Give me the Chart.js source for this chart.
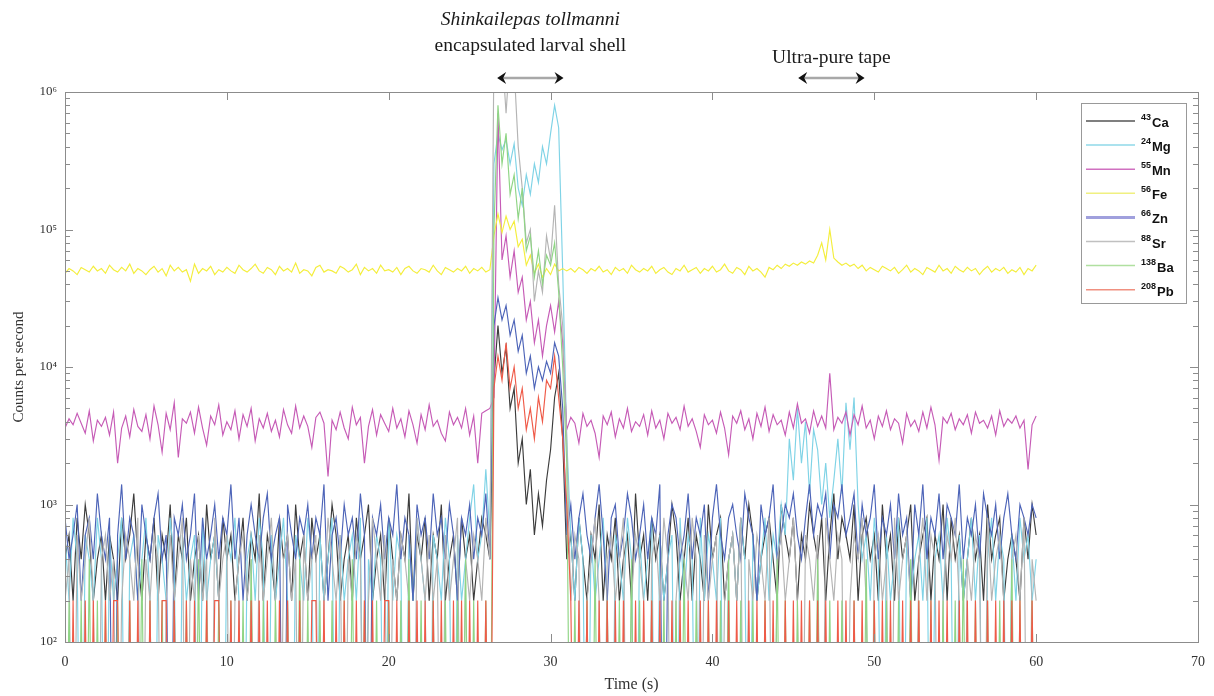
<!DOCTYPE html>
<html><head><meta charset="utf-8">
<script src="https://cdn.jsdelivr.net/npm/chart.js@4.4.1/dist/chart.umd.min.js"></script>
<style>html,body{margin:0;padding:0;background:#fff}#wrap{width:1214px;height:696px;position:relative}</style>
</head><body><div id="wrap"><canvas id="c" width="1214" height="696"></canvas></div>
<script>
// ---------------- DATA ----------------
const sampleStep = 0.25; // seconds between samples, first sample at 0 s
const masses   = ['43','24','55','56','66','88','138','208'];
const elements = ['Ca','Mg','Mn','Fe','Zn','Sr','Ba','Pb'];
const xTicks = [0,10,20,30,40,50,60,70];
const yDecades = [100,1000,10000,100000,1000000];
const yDecadeLabels = ['10²','10³','10⁴','10⁵','10⁶'];
const annotations = [
  {lines:['Shinkailepas tollmanni','encapsulated larval shell'], italic:[true,false], from:26.7, to:30.8},
  {lines:['Ultra-pure tape'], italic:[false], from:45.3, to:49.4}
];

// samples 0..105 = background, 106..123 = shell (26.5-30.75 s), 124..240 = background
// a count of 0 cannot sit on a log axis: it is drawn below the axis floor (clipped)
const ca = [
400,600,200,800,400,1000,600,200,400,600,
200,600,400,200,800,400,600,1200,400,200,
600,400,800,200,600,400,1000,200,600,400,
800,200,400,600,200,1000,400,600,200,800,
400,600,200,400,800,200,600,400,1200,200,
600,400,200,800,400,600,200,1000,400,600,
200,800,400,600,200,400,1000,600,200,400,
600,200,800,400,600,1000,200,400,600,200,
800,400,200,600,400,1200,200,600,400,800,
200,600,400,1000,200,400,600,200,800,400,
600,200,400,800,600,400,
8000,20000,9000,14000,5000,7000,2000,3000,1000,1800,600,1200,700,1500,2500,6000,9000,3000,
400,600,200,800,400,200,600,400,1000,200,
600,400,800,200,400,600,200,1200,400,600,
200,800,400,600,200,400,1000,600,200,400,
800,200,600,400,200,1000,400,600,800,200,
400,600,200,800,400,1000,600,200,400,600,
800,400,200,1000,600,400,800,200,600,400,
1000,600,400,800,200,600,1200,400,800,600,
400,1000,200,600,800,400,600,200,1000,400,
600,200,800,400,600,1000,200,400,600,800,
200,600,400,1000,200,800,400,600,200,400,
800,400,600,200,1000,400,600,800,200,400,
600,400,200,800,400,1000,600];

const mg = [
600,200,800,400,0,600,400,200,800,400,
0,600,200,400,800,0,400,600,200,400,
800,200,0,600,400,200,800,400,0,600,
200,400,600,0,800,200,400,600,200,0,
600,400,800,200,0,400,600,200,800,400,
0,600,200,400,800,200,0,600,400,200,
800,400,0,600,200,400,800,0,600,200,
400,600,200,800,0,400,200,600,400,0,
800,200,600,400,0,600,200,800,400,200,
0,600,400,200,800,400,0,600,200,400,
800,1400,400,600,1800,600,
300000,500000,380000,450000,300000,420000,200000,150000,250000,180000,300000,220000,400000,300000,500000,800000,550000,50000,
3000,600,200,800,400,0,600,200,400,800,
200,0,600,400,200,800,400,0,600,200,
400,800,0,600,200,400,600,0,800,200,
600,400,0,800,200,600,400,200,800,0,
400,600,200,800,400,0,600,200,400,800,
200,600,400,1000,600,3000,1500,5000,2000,4000,
1200,3500,2500,1000,2000,800,1500,3000,1200,5500,
2500,6000,1000,400,600,200,800,400,0,600,
200,400,800,0,600,200,400,600,200,800,
0,400,600,200,800,400,0,600,200,400,
800,200,600,0,400,800,200,600,400,0,
600,200,800,400,600,200,400];

const mn = [
3600,4200,3800,4600,3900,3300,4800,2900,4100,3700,
4300,3200,4700,2000,3600,4400,3100,4900,3700,3400,
4500,3000,5200,3800,2400,4600,3500,5500,2200,4200,
3900,4700,3300,5100,3600,2700,4400,3800,5300,3200,
4000,3500,4800,3000,4500,3700,5000,2900,4200,3600,
4600,3400,4100,3100,4900,3800,3300,5200,3600,4400,
3700,2600,4300,4700,3900,1600,4100,3500,4700,3600,
3000,5100,3800,4300,2000,3700,4900,3200,4500,3900,
3400,5000,3600,4200,3100,4800,3800,2800,4500,3500,
5300,3700,4100,3300,2900,4700,3800,4300,3600,5000,
3200,4400,2000,4600,4800,5000,
6000,700000,60000,90000,45000,70000,35000,45000,22000,30000,15000,22000,12000,20000,28000,18000,30000,15000,
3500,4300,3900,2800,4600,3700,4100,3300,2200,4400,
3800,4700,3100,4200,3600,5000,3400,4000,3700,4500,
3200,4800,3600,4100,3000,4600,3900,4300,3500,5200,
3700,4200,3400,2600,4500,3800,4100,3300,4700,3600,
2300,4400,3900,4800,3500,4200,3000,4600,3700,5100,
3400,4500,3800,4100,3200,4700,3600,5400,3900,4200,
3300,4800,3700,4400,3600,9000,3500,4300,3900,4700,
3200,4500,3800,5200,3600,4100,3000,4400,3700,4800,
3500,4200,3900,2800,4600,3700,4100,3400,4700,3600,
5100,3800,2100,4300,3900,4600,3500,4200,3800,4500,
3300,4700,3900,4100,3600,4400,3200,4800,3700,4200,
3900,4400,3600,4100,1800,3800,4400];

const fe = [
48000,52000,50000,47000,53000,51000,49000,54000,50000,52000,
48000,55000,51000,49000,53000,50000,56000,48000,52000,50000,
47000,51000,54000,49000,52000,46000,55000,50000,53000,49000,
51000,42000,56000,48000,52000,50000,54000,47000,51000,49000,
53000,50000,48000,55000,51000,49000,52000,56000,50000,48000,
53000,51000,47000,54000,50000,52000,49000,57000,48000,51000,
50000,46000,53000,55000,49000,51000,50000,48000,54000,52000,
49000,51000,56000,47000,53000,50000,52000,48000,55000,50000,
51000,49000,53000,47000,52000,54000,50000,48000,52000,51000,
49000,55000,50000,47000,53000,51000,49000,52000,50000,54000,
48000,52000,50000,53000,49000,51000,
90000,130000,95000,125000,100000,115000,75000,85000,55000,65000,48000,56000,45000,52000,47000,56000,50000,52000,
50000,52000,49000,53000,51000,48000,52000,50000,54000,49000,
51000,47000,53000,50000,52000,48000,55000,51000,49000,52000,
50000,54000,48000,51000,53000,49000,47000,52000,50000,55000,
49000,51000,53000,48000,52000,50000,54000,49000,51000,56000,
50000,48000,53000,51000,47000,54000,50000,52000,49000,45000,
53000,51000,55000,52000,56000,54000,57000,55000,58000,56000,
59000,57000,65000,80000,60000,100000,62000,58000,55000,57000,
54000,56000,52000,55000,50000,53000,51000,49000,54000,52000,
50000,53000,48000,51000,55000,49000,52000,50000,47000,53000,
51000,49000,55000,50000,52000,48000,54000,51000,49000,53000,
50000,52000,47000,51000,54000,49000,52000,50000,53000,48000,
51000,49000,53000,47000,52000,50000,55000];

const zn = [
800,400,600,1000,200,600,800,400,1200,600,
400,800,0,600,1400,400,800,600,200,1000,
600,400,800,1200,400,600,0,800,600,1000,
400,600,1200,200,800,400,600,1000,400,800,
600,1400,400,800,200,600,1000,600,400,800,
1200,400,600,800,0,1000,600,400,800,600,
1000,400,800,600,1400,200,600,800,400,1000,
600,800,400,1200,600,0,800,600,1000,400,
800,600,1400,400,800,600,200,1000,600,800,
400,1200,600,800,400,1000,600,200,800,600,
1000,400,800,600,1200,400,
20000,32000,22000,28000,17000,22000,13000,17000,9000,12000,7000,10000,8000,11000,9000,15000,12000,5000,
600,1000,400,800,1200,600,400,800,1400,600,
200,800,1000,400,600,1200,800,400,600,1000,
400,800,600,1400,0,600,1000,800,400,600,
1200,400,800,600,1000,200,800,1400,600,400,
800,1000,600,400,1200,800,600,200,1000,600,
800,1400,400,600,1000,800,1200,600,400,800,
1400,600,1000,800,1200,400,1000,800,1400,600,
800,1200,400,1000,600,800,1400,400,800,600,
1000,400,1200,600,800,200,1000,600,1400,400,
800,600,1200,400,1000,800,600,1400,400,800,
600,1000,400,1200,800,600,1000,400,800,1200,
600,400,1000,800,600,1000,800];

const sr = [
200,400,0,600,200,400,800,200,0,400,
600,200,400,0,200,600,400,200,800,0,
400,200,600,400,0,200,600,200,400,800,
0,400,200,600,200,400,0,800,200,400,
600,0,200,400,600,200,400,0,600,200,
400,800,200,0,400,600,200,400,0,600,
200,400,600,0,200,800,400,200,600,0,
400,200,600,400,0,200,800,400,200,600,
0,400,200,600,400,200,0,800,400,200,
600,200,400,0,600,200,400,800,0,400,
200,600,400,200,800,400,
2000000,1000000,2000000,700000,2000000,1500000,400000,200000,80000,100000,30000,50000,35000,90000,60000,150000,40000,20000,
3000,200,600,400,0,200,400,800,200,0,
400,600,200,400,800,0,200,600,400,200,
0,400,600,200,800,400,0,200,600,400,
200,800,400,0,600,200,400,600,0,200,
400,600,200,800,0,400,200,600,400,200,
800,0,400,600,200,400,800,200,0,600,
400,200,600,0,800,400,200,600,400,0,
200,600,400,800,200,0,400,600,200,400,
0,800,200,400,600,200,0,400,800,200,
600,400,0,200,600,400,800,200,0,400,
200,600,400,0,800,200,400,600,200,0,
400,600,200,800,0,400,200];

const ba = [
0,200,0,0,200,0,400,0,200,0,
200,0,0,200,0,0,200,0,0,400,
0,200,0,0,200,0,0,200,0,0,
200,0,0,400,0,200,0,0,200,0,
0,200,0,0,200,0,400,0,0,200,
0,0,200,0,0,200,0,0,400,0,
200,0,0,200,0,0,200,0,0,200,
0,400,0,0,200,0,0,200,0,0,
200,0,0,200,0,400,0,0,200,0,
0,200,0,0,200,0,0,200,0,400,
0,200,0,0,200,0,
100000,800000,300000,500000,180000,250000,120000,200000,70000,90000,45000,70000,40000,65000,55000,80000,35000,10000,
2000,0,200,0,0,200,0,400,0,0,
200,0,0,200,0,0,400,0,200,0,
0,200,0,0,200,0,0,200,0,400,
0,0,200,0,0,200,0,0,200,0,
400,0,0,200,0,0,200,0,0,200,
0,0,400,0,200,0,0,200,0,0,
200,0,400,0,0,200,0,0,200,0,
0,200,0,0,400,0,200,0,0,200,
0,0,200,0,0,400,0,200,0,0,
200,0,0,200,0,0,200,0,400,0,
0,200,0,0,200,0,0,200,0,0,
400,0,200,0,0,200,0];

const pb = [
200,0,200,0,0,200,0,200,0,0,
200,0,200,200,0,0,200,0,200,0,
0,200,0,0,200,200,0,200,0,0,
200,0,200,0,0,200,0,200,200,0,
0,200,0,200,0,0,200,0,200,0,
200,0,0,200,0,200,0,0,200,0,
0,200,200,0,200,0,0,200,0,200,
0,0,200,0,200,0,200,0,0,200,
200,0,200,0,0,200,0,200,0,200,
0,200,0,200,0,0,200,0,200,0,
200,0,200,0,200,0,
7000,12000,8000,15000,7000,10000,5000,7000,3500,5000,3000,6000,4000,8000,7000,12000,6000,3000,
1000,200,0,200,0,200,0,0,200,0,
200,0,200,0,200,0,0,200,0,200,
0,200,0,200,0,0,200,0,200,0,
200,0,0,200,0,200,0,200,0,0,
200,0,200,0,0,200,0,200,0,200,
0,200,0,0,200,0,200,0,200,0,
200,0,200,0,200,0,0,200,0,200,
0,200,0,200,0,0,200,0,200,0,
200,0,0,200,0,200,0,200,0,0,
200,0,200,0,200,0,0,200,0,200,
0,200,0,0,200,0,200,0,200,0,
200,0,200,0,0,200,0];

const seriesValues = [ca, mg, mn, fe, zn, sr, ba, pb];

// ---------------- STYLE ----------------
const belowAxis = 1; // where zero counts are plotted (under the 10^2 floor, clipped away)
const lineColors   = ['#3c3c3c','#7fd3e6','#c65bb6','#f4ee3c','#4d64b8','#b4b4b4','#8fd585','#ef5a48'];
const legendColors = ['#555555','#8fd8e8','#d070c0','#f0f080','#a0a0dd','#c0c0c0','#b0e0a0','#f09080'];
const serif = "'Liberation Serif','DejaVu Serif',serif";
const annotationTextY = [[20, 46], [58]];

const datasets = seriesValues.map((vals, i) => ({
  label: masses[i] + elements[i],
  data: vals.map((v, k) => ({x: k * sampleStep, y: v > 0 ? v : belowAxis})),
  borderColor: lineColors[i],
  borderWidth: 1.15,
  pointRadius: 0,
  tension: 0,
  fill: false,
  order: seriesValues.length - 1 - i
}));

const framePlugin = {
  id: 'frame',
  afterDatasetsDraw(chart) {
    const {ctx, chartArea: a, scales} = chart;
    ctx.save();
    ctx.strokeStyle = '#8c8c8c';
    ctx.lineWidth = 1;
    ctx.beginPath();
    yDecades.forEach((d) => {
      for (let m = 1; m <= 9; m++) {
        const v = d * m;
        if (v > yDecades[yDecades.length - 1]) break;
        const y = Math.round(scales.y.getPixelForValue(v)) + 0.5;
        const len = m === 1 ? 8 : 5;
        ctx.moveTo(a.left, y); ctx.lineTo(a.left + len, y);
        ctx.moveTo(a.right, y); ctx.lineTo(a.right - len, y);
      }
    });
    xTicks.forEach(t => {
      const x = Math.round(scales.x.getPixelForValue(t)) + 0.5;
      ctx.moveTo(x, a.bottom); ctx.lineTo(x, a.bottom - 8);
      ctx.moveTo(x, a.top); ctx.lineTo(x, a.top + 8);
    });
    ctx.stroke();
    ctx.strokeRect(Math.round(a.left) + 0.5, Math.round(a.top) + 0.5, Math.round(a.right - a.left), Math.round(a.bottom - a.top));
    ctx.restore();
  },
  afterDraw(chart) {
    const {ctx, scales} = chart;
    ctx.save();
    // legend
    const lx = 1081, ly = 103, lw = 105, lh = 200;
    ctx.fillStyle = '#fff';
    ctx.fillRect(lx, ly, lw, lh);
    ctx.strokeStyle = '#999';
    ctx.lineWidth = 1;
    ctx.strokeRect(lx + 0.5, ly + 0.5, lw, lh);
    elements.forEach((el, i) => {
      const y = 121 + i * 24.1;
      ctx.strokeStyle = legendColors[i];
      ctx.lineWidth = i === 4 ? 3 : 1.5;
      ctx.beginPath(); ctx.moveTo(1086, y); ctx.lineTo(1135, y); ctx.stroke();
      ctx.fillStyle = '#111';
      ctx.textBaseline = 'alphabetic';
      ctx.textAlign = 'left';
      ctx.font = "bold 9px 'Liberation Sans Narrow','Liberation Sans',sans-serif";
      ctx.fillText(masses[i], 1141, y - 1);
      const mw = ctx.measureText(masses[i]).width;
      ctx.font = "bold 13px 'Liberation Sans Narrow','Liberation Sans',sans-serif";
      ctx.fillText(el, 1141 + mw + 1, y + 6);
    });
    // annotations
    annotations.forEach((an, ai) => {
      const x1 = scales.x.getPixelForValue(an.from), x2 = scales.x.getPixelForValue(an.to);
      const cx = (x1 + x2) / 2;
      ctx.fillStyle = '#1a1a1a';
      ctx.textAlign = 'center';
      ctx.textBaseline = 'middle';
      an.lines.forEach((t, j) => {
        ctx.font = (an.italic[j] ? 'italic ' : '') + '19.5px ' + serif;
        ctx.fillText(t, cx, annotationTextY[ai][j]);
      });
      const ay = 78;
      ctx.strokeStyle = '#a8a8a8';
      ctx.lineWidth = 2.5;
      ctx.beginPath(); ctx.moveTo(x1 + 5, ay); ctx.lineTo(x2 - 5, ay); ctx.stroke();
      ctx.fillStyle = '#111';
      ctx.beginPath(); ctx.moveTo(x1, ay); ctx.lineTo(x1 + 9, ay - 6); ctx.lineTo(x1 + 6, ay); ctx.lineTo(x1 + 9, ay + 6); ctx.closePath(); ctx.fill();
      ctx.beginPath(); ctx.moveTo(x2, ay); ctx.lineTo(x2 - 9, ay - 6); ctx.lineTo(x2 - 6, ay); ctx.lineTo(x2 - 9, ay + 6); ctx.closePath(); ctx.fill();
    });
    ctx.restore();
  }
};

new Chart(document.getElementById('c'), {
  type: 'line',
  data: {datasets},
  options: {
    responsive: false,
    devicePixelRatio: 1,
    animation: false,
    layout: {padding: {top: 92, right: 16, left: 0, bottom: 0}},
    plugins: {legend: {display: false}, tooltip: {enabled: false}},
    scales: {
      x: {
        type: 'linear', min: 0, max: 70,
        afterBuildTicks(s) { s.ticks = xTicks.map(v => ({value: v})); },
        afterFit(s) { s.height = 54; s.paddingLeft = 0; s.paddingRight = 0; },
        grid: {display: false, drawTicks: false},
        border: {display: false},
        ticks: {padding: 12, color: '#333', font: {family: serif, size: 14}, maxRotation: 0, autoSkip: false},
        title: {display: true, text: 'Time (s)', color: '#333', font: {family: serif, size: 16}, padding: {top: 0, bottom: 2}}
      },
      y: {
        type: 'logarithmic', min: 100, max: 1000000,
        afterBuildTicks(s) { s.ticks = yDecades.map(v => ({value: v})); },
        afterFit(s) { s.width = 65; s.paddingTop = 0; s.paddingBottom = 0; },
        grid: {display: false, drawTicks: false},
        border: {display: false},
        ticks: {padding: 8, color: '#333', font: {family: serif, size: 13},
          callback: (v) => { const i = yDecades.indexOf(v); return i >= 0 ? yDecadeLabels[i] : ''; }},
        title: {display: true, text: 'Counts per second', color: '#333', font: {family: serif, size: 15}, padding: {top: 10, bottom: 0}}
      }
    }
  },
  plugins: [framePlugin]
});
</script>
</body></html>
